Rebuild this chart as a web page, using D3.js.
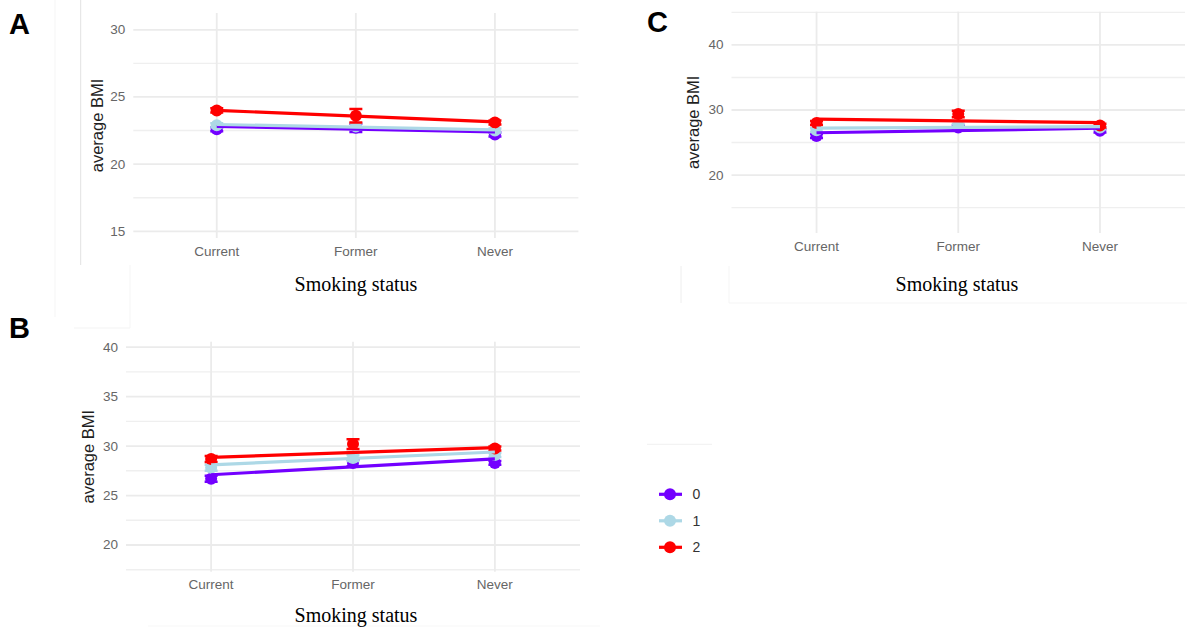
<!DOCTYPE html>
<html>
<head>
<meta charset="utf-8">
<script src="https://d3js.org/d3.v7.min.js"></script>
<style>
  body { margin: 0; background: #fff; }
  svg { display: block; }
</style>
</head>
<body>
<div id="chart"></div>
<script>
// categories and groups
const categories = ["Current", "Former", "Never"];
const groups = ["0", "1", "2"];
const groupColors = ["#7300ff", "#add8e6", "#ff0000"];

// panel A: means, error half-widths, fitted line (Current -> Never)
const meansA = [[22.6, 22.7, 22.2], [22.9, 22.8, 22.5], [24.0, 23.6, 23.1]];
const errA   = [[0.15, 0.3, 0.15], [0.15, 0.25, 0.15], [0.15, 0.5, 0.15]];
const fitA   = [[22.8, 22.4], [22.95, 22.55], [24.0, 23.15]];
const ticksA = [15, 20, 25, 30];

// panel B
const meansB = [[26.7, 28.3, 28.3], [27.8, 28.8, 29.1], [28.7, 30.2, 29.75]];
const errB   = [[0.3, 0.35, 0.2], [0.3, 0.3, 0.2], [0.3, 0.5, 0.2]];
const fitB   = [[27.1, 28.7], [28.1, 29.4], [28.85, 29.85]];
const ticksB = [20, 25, 30, 35, 40];

// panel C
const meansC = [[26.0, 27.3, 26.8], [26.9, 27.6, 27.3], [28.0, 29.4, 27.6]];
const errC   = [[0.3, 0.3, 0.25], [0.3, 0.3, 0.25], [0.3, 0.5, 0.3]];
const fitC   = [[26.5, 27.2], [27.2, 27.45], [28.6, 28.05]];
const ticksC = [20, 30, 40];

const W = 1187, H = 630;
const svg = d3.select("#chart").append("svg").attr("width", W).attr("height", H);

// faint frame lines left over from the composite figure
const frames = [
  [80.7, 0, 80.7, 265, "#e2e2e2"], [55, 0, 55, 317, "#f5f5f5"],
  [74, 328, 130, 328, "#f3f3f3"], [130, 265, 130, 328, "#f5f5f5"],
  [681, 266, 681, 303, "#eeeeee"], [729, 266, 729, 303, "#f5f5f5"],
  [729, 303, 1187, 303, "#f5f5f5"], [148, 626, 600, 626, "#f7f7f7"]
];
svg.selectAll("line.frame").data(frames).enter().append("line")
  .attr("x1", d => d[0]).attr("y1", d => d[1]).attr("x2", d => d[2]).attr("y2", d => d[3])
  .attr("stroke", d => d[4]).attr("stroke-width", 1);

function drawPanel(p) {
  const g = svg.append("g");
  const x = d3.scalePoint().domain(categories).range([p.x0, p.x1]).padding(0.6);
  const y = d3.scaleLinear().domain(p.yDomain).range([p.y1, p.y0]);

  // minor grid
  g.selectAll("line.minor").data(p.minor).enter().append("line")
    .attr("x1", p.x0).attr("x2", p.x1)
    .attr("y1", d => y(d)).attr("y2", d => y(d))
    .attr("stroke", "#efefef").attr("stroke-width", 1.4);
  // major grid
  g.selectAll("line.major").data(p.ticks).enter().append("line")
    .attr("x1", p.x0).attr("x2", p.x1)
    .attr("y1", d => y(d)).attr("y2", d => y(d))
    .attr("stroke", "#ebebeb").attr("stroke-width", 1.8);
  g.selectAll("line.vgrid").data(categories).enter().append("line")
    .attr("x1", d => x(d)).attr("x2", d => x(d))
    .attr("y1", p.y0).attr("y2", p.y1)
    .attr("stroke", "#ebebeb").attr("stroke-width", 1.8);

  // tick labels
  g.selectAll("text.ytick").data(p.ticks).enter().append("text")
    .attr("x", p.x0 - 8).attr("y", d => y(d))
    .attr("text-anchor", "end").attr("dominant-baseline", "central")
    .style("font", "13.5px 'Liberation Sans', Arial, sans-serif").style("fill", "#666")
    .text(d => d);
  g.selectAll("text.xtick").data(categories).enter().append("text")
    .attr("x", d => x(d)).attr("y", p.y1 + 13)
    .attr("text-anchor", "middle").attr("dominant-baseline", "central")
    .style("font", "13.5px 'Liberation Sans', Arial, sans-serif").style("fill", "#666")
    .text(d => d);

  // axis titles
  g.append("text")
    .attr("transform", `translate(${p.yTitleX},${(p.y0 + p.y1) / 2}) rotate(-90)`)
    .attr("text-anchor", "middle").attr("dominant-baseline", "central")
    .style("font", "16.5px 'Liberation Sans', Arial, sans-serif").style("fill", "#1f1f1f")
    .text("average BMI");
  g.append("text")
    .attr("x", p.xTitleX).attr("y", p.xTitleY)
    .attr("text-anchor", "middle").attr("dominant-baseline", "central")
    .style("font", "20px 'Liberation Serif', 'Times New Roman', serif").style("fill", "#000")
    .text("Smoking status");

  // panel letter
  g.append("text")
    .attr("x", p.letterX).attr("y", p.letterY)
    .style("font", "bold 29px 'Liberation Sans', Arial, sans-serif").style("fill", "#000")
    .text(p.letter);

  groups.forEach((grp, gi) => {
    const col = groupColors[gi];
    const pts = categories.map((c, ci) => ({ c, m: p.means[gi][ci], e: p.err[gi][ci] }));
    // error bars
    g.selectAll(null).data(pts).enter().append("path")
      .attr("d", d => {
        const cx = x(d.c), lo = y(d.m - d.e), hi = y(d.m + d.e);
        return `M${cx - 6.5},${hi}H${cx + 6.5}M${cx},${hi}V${lo}M${cx - 6.5},${lo}H${cx + 6.5}`;
      })
      .attr("stroke", col).attr("stroke-width", 2.5).attr("fill", "none");
    // points
    g.selectAll(null).data(pts).enter().append("circle")
      .attr("cx", d => x(d.c)).attr("cy", d => y(d.m)).attr("r", 6)
      .attr("fill", col);
  });
  groups.forEach((grp, gi) => {
    // fitted line
    g.append("line")
      .attr("x1", x(categories[0])).attr("y1", y(p.fit[gi][0]))
      .attr("x2", x(categories[2])).attr("y2", y(p.fit[gi][1]))
      .attr("stroke", groupColors[gi]).attr("stroke-width", 3.2);
  });
}

drawPanel({
  letter: "A", letterX: 9, letterY: 34,
  x0: 133.3, x1: 578.4, y0: 13, y1: 238, yDomain: [14.5, 31.25],
  ticks: ticksA, minor: [17.5, 22.5, 27.5],
  means: meansA, err: errA, fit: fitA,
  yTitleX: 97, xTitleX: 356, xTitleY: 284
});
drawPanel({
  letter: "B", letterX: 9, letterY: 338,
  x0: 126, x1: 580, y0: 341.7, y1: 571.7, yDomain: [17.3, 40.55],
  ticks: ticksB, minor: [17.5, 22.5, 27.5, 32.5, 37.5],
  means: meansB, err: errB, fit: fitB,
  yTitleX: 88, xTitleX: 356, xTitleY: 615
});
drawPanel({
  letter: "C", letterX: 647, letterY: 32,
  x0: 731.5, x1: 1185, y0: 11.7, y1: 233, yDomain: [11.1, 45.1],
  ticks: ticksC, minor: [15, 25, 35, 45],
  means: meansC, err: errC, fit: fitC,
  yTitleX: 693, xTitleX: 957, xTitleY: 284
});

// legend
const legend = svg.append("g");
legend.append("line").attr("x1", 647).attr("x2", 712).attr("y1", 444.3).attr("y2", 444.3)
  .attr("stroke", "#f0f0f0").attr("stroke-width", 1);
const ly = d3.scalePoint().domain(groups).range([494.3, 547.3]);
const items = legend.selectAll("g.item").data(groups).enter().append("g")
  .attr("transform", d => `translate(0,${ly(d)})`);
items.append("line").attr("x1", 659).attr("x2", 682).attr("y1", 0).attr("y2", 0)
  .attr("stroke", (d, i) => groupColors[i]).attr("stroke-width", 3.2);
items.append("circle").attr("cx", 670).attr("cy", 0).attr("r", 6)
  .attr("fill", (d, i) => groupColors[i]);
items.append("text").attr("x", 692.5).attr("y", 0)
  .attr("dominant-baseline", "central")
  .style("font", "14px 'Liberation Sans', Arial, sans-serif").style("fill", "#333")
  .text(d => d);
</script>
</body>
</html>
